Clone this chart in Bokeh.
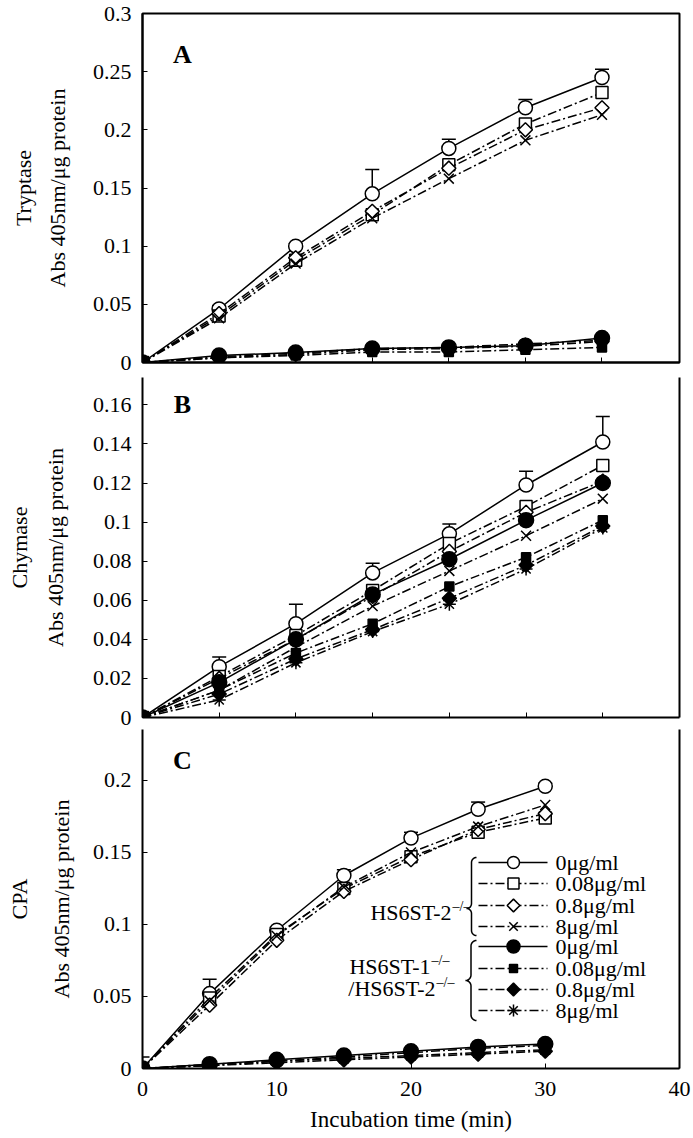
import numpy as np
from bokeh.plotting import figure
from bokeh.layouts import column
from bokeh.models import (Range1d, FixedTicker, LinearAxis, Label, Whisker, TeeHead,
                          ColumnDataSource, CustomJSTickFormatter)
from bokeh.core.properties import value
from bokeh.embed import file_html
from bokeh.resources import INLINE

# ---------------- data ----------------
time = [0, 5, 10, 15, 20, 25, 30]

# Tryptase (panel A)
a_ko2_0 = [0, 0.046, 0.100, 0.145, 0.184, 0.219, 0.245]
a_ko2_0_err = [0, 0.003, 0.002, 0.021, 0.008, 0.007, 0.007]
a_ko2_008 = [0, 0.040, 0.088, 0.127, 0.170, 0.205, 0.232]
a_ko2_08 = [0, 0.042, 0.090, 0.130, 0.167, 0.200, 0.219]
a_ko2_8 = [0, 0.038, 0.085, 0.124, 0.158, 0.191, 0.213]
a_dko_0 = [0, 0.006, 0.0085, 0.012, 0.013, 0.0145, 0.021]
a_dko_008 = [0, 0.004, 0.006, 0.009, 0.009, 0.011, 0.013]
a_dko_08 = [0, 0.004, 0.007, 0.011, 0.012, 0.014, 0.018]
a_dko_8 = [0, 0.005, 0.008, 0.012, 0.013, 0.016, 0.019]

# Chymase (panel B)
b_ko2_0 = [0, 0.026, 0.048, 0.074, 0.094, 0.119, 0.141]
b_ko2_0_err = [0, 0.005, 0.010, 0.005, 0.005, 0.007, 0.013]
b_ko2_008 = [0, 0.021, 0.042, 0.065, 0.089, 0.108, 0.129]
b_ko2_08 = [0, 0.020, 0.040, 0.062, 0.085, 0.105, 0.121]
b_ko2_8 = [0, 0.014, 0.036, 0.057, 0.075, 0.093, 0.112]
b_dko_0 = [0, 0.018, 0.040, 0.063, 0.081, 0.101, 0.120]
b_dko_008 = [0, 0.014, 0.033, 0.048, 0.067, 0.082, 0.101]
b_dko_08 = [0, 0.012, 0.030, 0.045, 0.061, 0.078, 0.098]
b_dko_8 = [0, 0.009, 0.028, 0.044, 0.058, 0.076, 0.097]

# CPA (panel C)
c_ko2_0 = [0, 0.052, 0.096, 0.134, 0.160, 0.180, 0.196]
c_ko2_0_err = [0.008, 0.010, 0.002, 0.004, 0.004, 0.005, 0.002]
c_ko2_008 = [0, 0.049, 0.093, 0.125, 0.147, 0.164, 0.174]
c_ko2_08 = [0, 0.044, 0.089, 0.123, 0.145, 0.166, 0.177]
c_ko2_8 = [0, 0.047, 0.092, 0.126, 0.150, 0.168, 0.183]
c_dko_0 = [0, 0.003, 0.006, 0.009, 0.012, 0.015, 0.017]
c_dko_008 = [0, 0.002, 0.005, 0.007, 0.009, 0.011, 0.013]
c_dko_08 = [0, 0.002, 0.004, 0.006, 0.008, 0.010, 0.012]
c_dko_8 = [0, 0.003, 0.005, 0.008, 0.011, 0.014, 0.016]

a_yticks = [0, 0.05, 0.1, 0.15, 0.2, 0.25, 0.3]
b_yticks = [0, 0.02, 0.04, 0.06, 0.08, 0.1, 0.12, 0.14, 0.16]
c_yticks = [0, 0.05, 0.1, 0.15, 0.2]
ab_xticks = [0, 5, 10, 15, 20, 25, 30]
c_xticks = [0, 10, 20, 30, 40]

conc_labels = ["0\u03bcg/ml", "0.08\u03bcg/ml", "0.8\u03bcg/ml", "8\u03bcg/ml"]
group_labels = ["HS6ST-2", "HS6ST-1", "/HS6ST-2"]
sup_label = "\u2013/\u2013"
panel_titles = ["Tryptase", "Chymase", "CPA"]
y_title = "Abs 405nm/\u03bcg protein"
x_title = "Incubation time (min)"

# ---------------- styles ----------------
FONT = "Liberation Serif"
DASH = "9 3 2 3"
# (marker, size, fill, dash, angle)
STYLES = [
    ("circle", 14, "white", "solid", 0),
    ("square", 12, "white", DASH, 0),
    ("square", 10, "white", DASH, np.pi / 4),
    ("x", 14, None, DASH, 0),
    ("circle", 15, "black", "solid", 0),
    ("square", 9, "black", DASH, 0),
    ("square", 10, "black", DASH, np.pi / 4),
    ("asterisk", 13, None, DASH, 0),
]
LEG_SIZES = [12, 11, 9, 12, 13, 8, 9, 12]

LEFT, RIGHT = 142, 679


def geom(top, bottom, x1, y1, fig_top):
    return dict(left=LEFT, right=RIGHT, top=top, bottom=bottom, x1=x1, y1=y1,
                fig_top=fig_top)


def px2x(g, px):
    return (px - g["left"]) / (g["right"] - g["left"]) * g["x1"]


def py2y(g, py):
    return (g["bottom"] - py) / (g["bottom"] - g["top"]) * g["y1"]


fmt = CustomJSTickFormatter(code="return Number(tick.toFixed(4)).toString();")
blank = CustomJSTickFormatter(code="return '';")


def make_panel(g, yticks, xticks, series, err, letter, title, line_h, label_standoff,
               show_x, outline, bottom_border, letter_pos):
    p = figure(frame_width=g["right"] - g["left"], frame_height=g["bottom"] - g["top"],
               min_border_left=g["left"], min_border_right=13,
               min_border_top=g["top"] - g["fig_top"],
               min_border_bottom=bottom_border,
               x_range=Range1d(0, g["x1"]), y_range=Range1d(0, g["y1"]),
               output_backend="svg", toolbar_location=None, tools="")
    p.background_fill_color = "white"
    p.border_fill_color = "white"
    p.grid.visible = False
    if outline:
        p.outline_line_color = "black"
        p.outline_line_width = 2
    else:
        p.outline_line_color = None
        ra = LinearAxis(ticker=FixedTicker(ticks=[]), formatter=blank,
                        major_tick_in=0, major_tick_out=0, minor_tick_in=0, minor_tick_out=0,
                        axis_line_color="black", axis_line_width=2, major_label_standoff=0)
        p.add_layout(ra, "right")

    for ax in (p.xaxis[0], p.yaxis[0]):
        ax.axis_line_color = "black"
        ax.axis_line_width = 2
        ax.major_tick_line_color = "black"
        ax.major_tick_line_width = 1
        ax.major_tick_in = 5
        ax.major_tick_out = 0
        ax.minor_tick_line_color = None
        ax.major_label_text_font = FONT
        ax.major_label_text_font_size = "22px"
        ax.major_label_text_color = "black"
    ya = p.yaxis[0]
    ya.ticker = FixedTicker(ticks=yticks)
    ya.formatter = fmt
    ya.major_label_standoff = 11
    ya.axis_label = title + "\n" + y_title
    ya.axis_label_text_font = FONT
    ya.axis_label_text_font_size = "22px"
    ya.axis_label_text_font_style = "normal"
    ya.axis_label_text_color = "black"
    ya.axis_label_text_line_height = line_h
    ya.axis_label_standoff = label_standoff

    xa = p.xaxis[0]
    xa.ticker = FixedTicker(ticks=xticks)
    if show_x:
        xa.major_label_standoff = 13
        xa.axis_label = x_title
        xa.axis_label_text_font = FONT
        xa.axis_label_text_font_size = "23px"
        xa.axis_label_text_font_style = "normal"
        xa.axis_label_text_color = "black"
        xa.axis_label_standoff = 8
    else:
        xa.formatter = blank
        xa.major_label_standoff = 0

    # error bars (upper only) for the open-circle control series
    up = [v + e for v, e in zip(series[0], err)]
    keep = [i for i, e in enumerate(err) if e > 0]
    src = ColumnDataSource(dict(base=[time[i] for i in keep], upper=[up[i] for i in keep],
                                lower=[series[0][i] for i in keep]))
    w = Whisker(source=src, base="base", upper="upper", lower="lower", dimension="height",
                line_color="black", line_width=1.5,
                upper_head=TeeHead(size=14, line_color="black", line_width=1.5),
                lower_head=None, level="underlay")
    p.add_layout(w)

    for ys, (mk, sz, fill, dash, ang) in zip(series, STYLES):
        p.line(time, ys, line_color="black", line_width=1.5, line_dash=dash)
        if fill is None:
            p.scatter(time, ys, marker=mk, size=sz, line_color="black", line_width=1.5)
        else:
            p.scatter(time, ys, marker=mk, size=sz, angle=ang, fill_color=fill,
                      line_color="black", line_width=1.5)

    # panel letter
    p.add_layout(Label(x=px2x(g, letter_pos[0]), y=py2y(g, letter_pos[1]), text=letter,
                       text_font=FONT, text_font_size="26px", text_font_style="bold",
                       text_color="black", text_align="center", text_baseline="middle"))
    return p


gA = geom(13, 362, 35.06, 0.3, 0)
gB = geom(377, 717, 35.0, 0.174, 377)
gC = geom(729, 1068, 40.0, 0.2354, 729)

pA = make_panel(gA, a_yticks, ab_xticks,
                [a_ko2_0, a_ko2_008, a_ko2_08, a_ko2_8, a_dko_0, a_dko_008, a_dko_08, a_dko_8],
                a_ko2_0_err, "A", panel_titles[0], 1.36, 20, False, True, 15, (182, 54))
pB = make_panel(gB, b_yticks, ab_xticks,
                [b_ko2_0, b_ko2_008, b_ko2_08, b_ko2_8, b_dko_0, b_dko_008, b_dko_08, b_dko_8],
                b_ko2_0_err, "B", panel_titles[1], 1.45, 22, False, False, 12, (182, 404))
pC = make_panel(gC, c_yticks, c_xticks,
                [c_ko2_0, c_ko2_008, c_ko2_08, c_ko2_8, c_dko_0, c_dko_008, c_dko_08, c_dko_8],
                c_ko2_0_err, "C", panel_titles[2], 1.7, 16, True, False, 62, (182, 760))

# ---------------- legend (drawn inside panel C) ----------------
g = gC
row_y = [862, 883, 905, 926, 946, 968, 989, 1010]
lx0, lx1, lmk, ltx = 478, 547, 513, 555
for i, (mk, sz, fill, dash, ang) in enumerate(STYLES):
    yy = py2y(g, row_y[i])
    pC.line([px2x(g, lx0), px2x(g, lx1)], [yy, yy], line_color="black", line_width=1.5,
            line_dash=dash)
    if fill is None:
        pC.scatter([px2x(g, lmk)], [yy], marker=mk, size=LEG_SIZES[i], line_color="black",
                   line_width=1.5)
    else:
        pC.scatter([px2x(g, lmk)], [yy], marker=mk, size=LEG_SIZES[i], angle=ang,
                   fill_color=fill, line_color="black", line_width=1.5)
    pC.text([px2x(g, ltx)], [yy], text=[conc_labels[i % 4]], text_font=value(FONT),
            text_font_size="22px", text_color="black", text_align="left",
            text_baseline="middle")


def brace(xl, xr, yt, yb, ym, n=10):
    r = (xr - xl) / 2.0
    xs, ys = [], []
    th = np.linspace(-np.pi / 2, -np.pi, n)
    xs += list(xr + r * np.cos(th)); ys += list(yt + r + r * np.sin(th))
    th = np.linspace(0, np.pi / 2, n)
    xs += list(xl + r * np.cos(th)); ys += list(ym - r + r * np.sin(th))
    th = np.linspace(-np.pi / 2, 0, n)
    xs += list(xl + r * np.cos(th)); ys += list(ym + r + r * np.sin(th))
    th = np.linspace(np.pi, np.pi / 2, n)
    xs += list(xr + r * np.cos(th)); ys += list(yb - r + r * np.sin(th))
    return [px2x(g, v) for v in xs], [py2y(g, v) for v in ys]


for (xl, xr, yt, yb, ym) in [(466, 476, 857, 935, 908), (465, 476, 940, 1020, 980)]:
    bx, by = brace(xl, xr, yt, yb, ym)
    pC.line(bx, by, line_color="black", line_width=1.5)

# group labels with superscripts
for txt, (rx, cy) in zip(group_labels, [(451, 912), (430, 966), (435, 988)]):
    pC.text([px2x(g, rx)], [py2y(g, cy)], text=[txt], text_font=value(FONT),
            text_font_size="22px", text_color="black", text_align="right",
            text_baseline="middle")
    pC.text([px2x(g, rx + 1)], [py2y(g, cy - 6)], text=[sup_label], text_font=value(FONT),
            text_font_size="14px", text_color="black", text_align="left",
            text_baseline="middle")

layout = column(pA, pB, pC, spacing=0)
open("out.html", "w").write(file_html(layout, INLINE))
